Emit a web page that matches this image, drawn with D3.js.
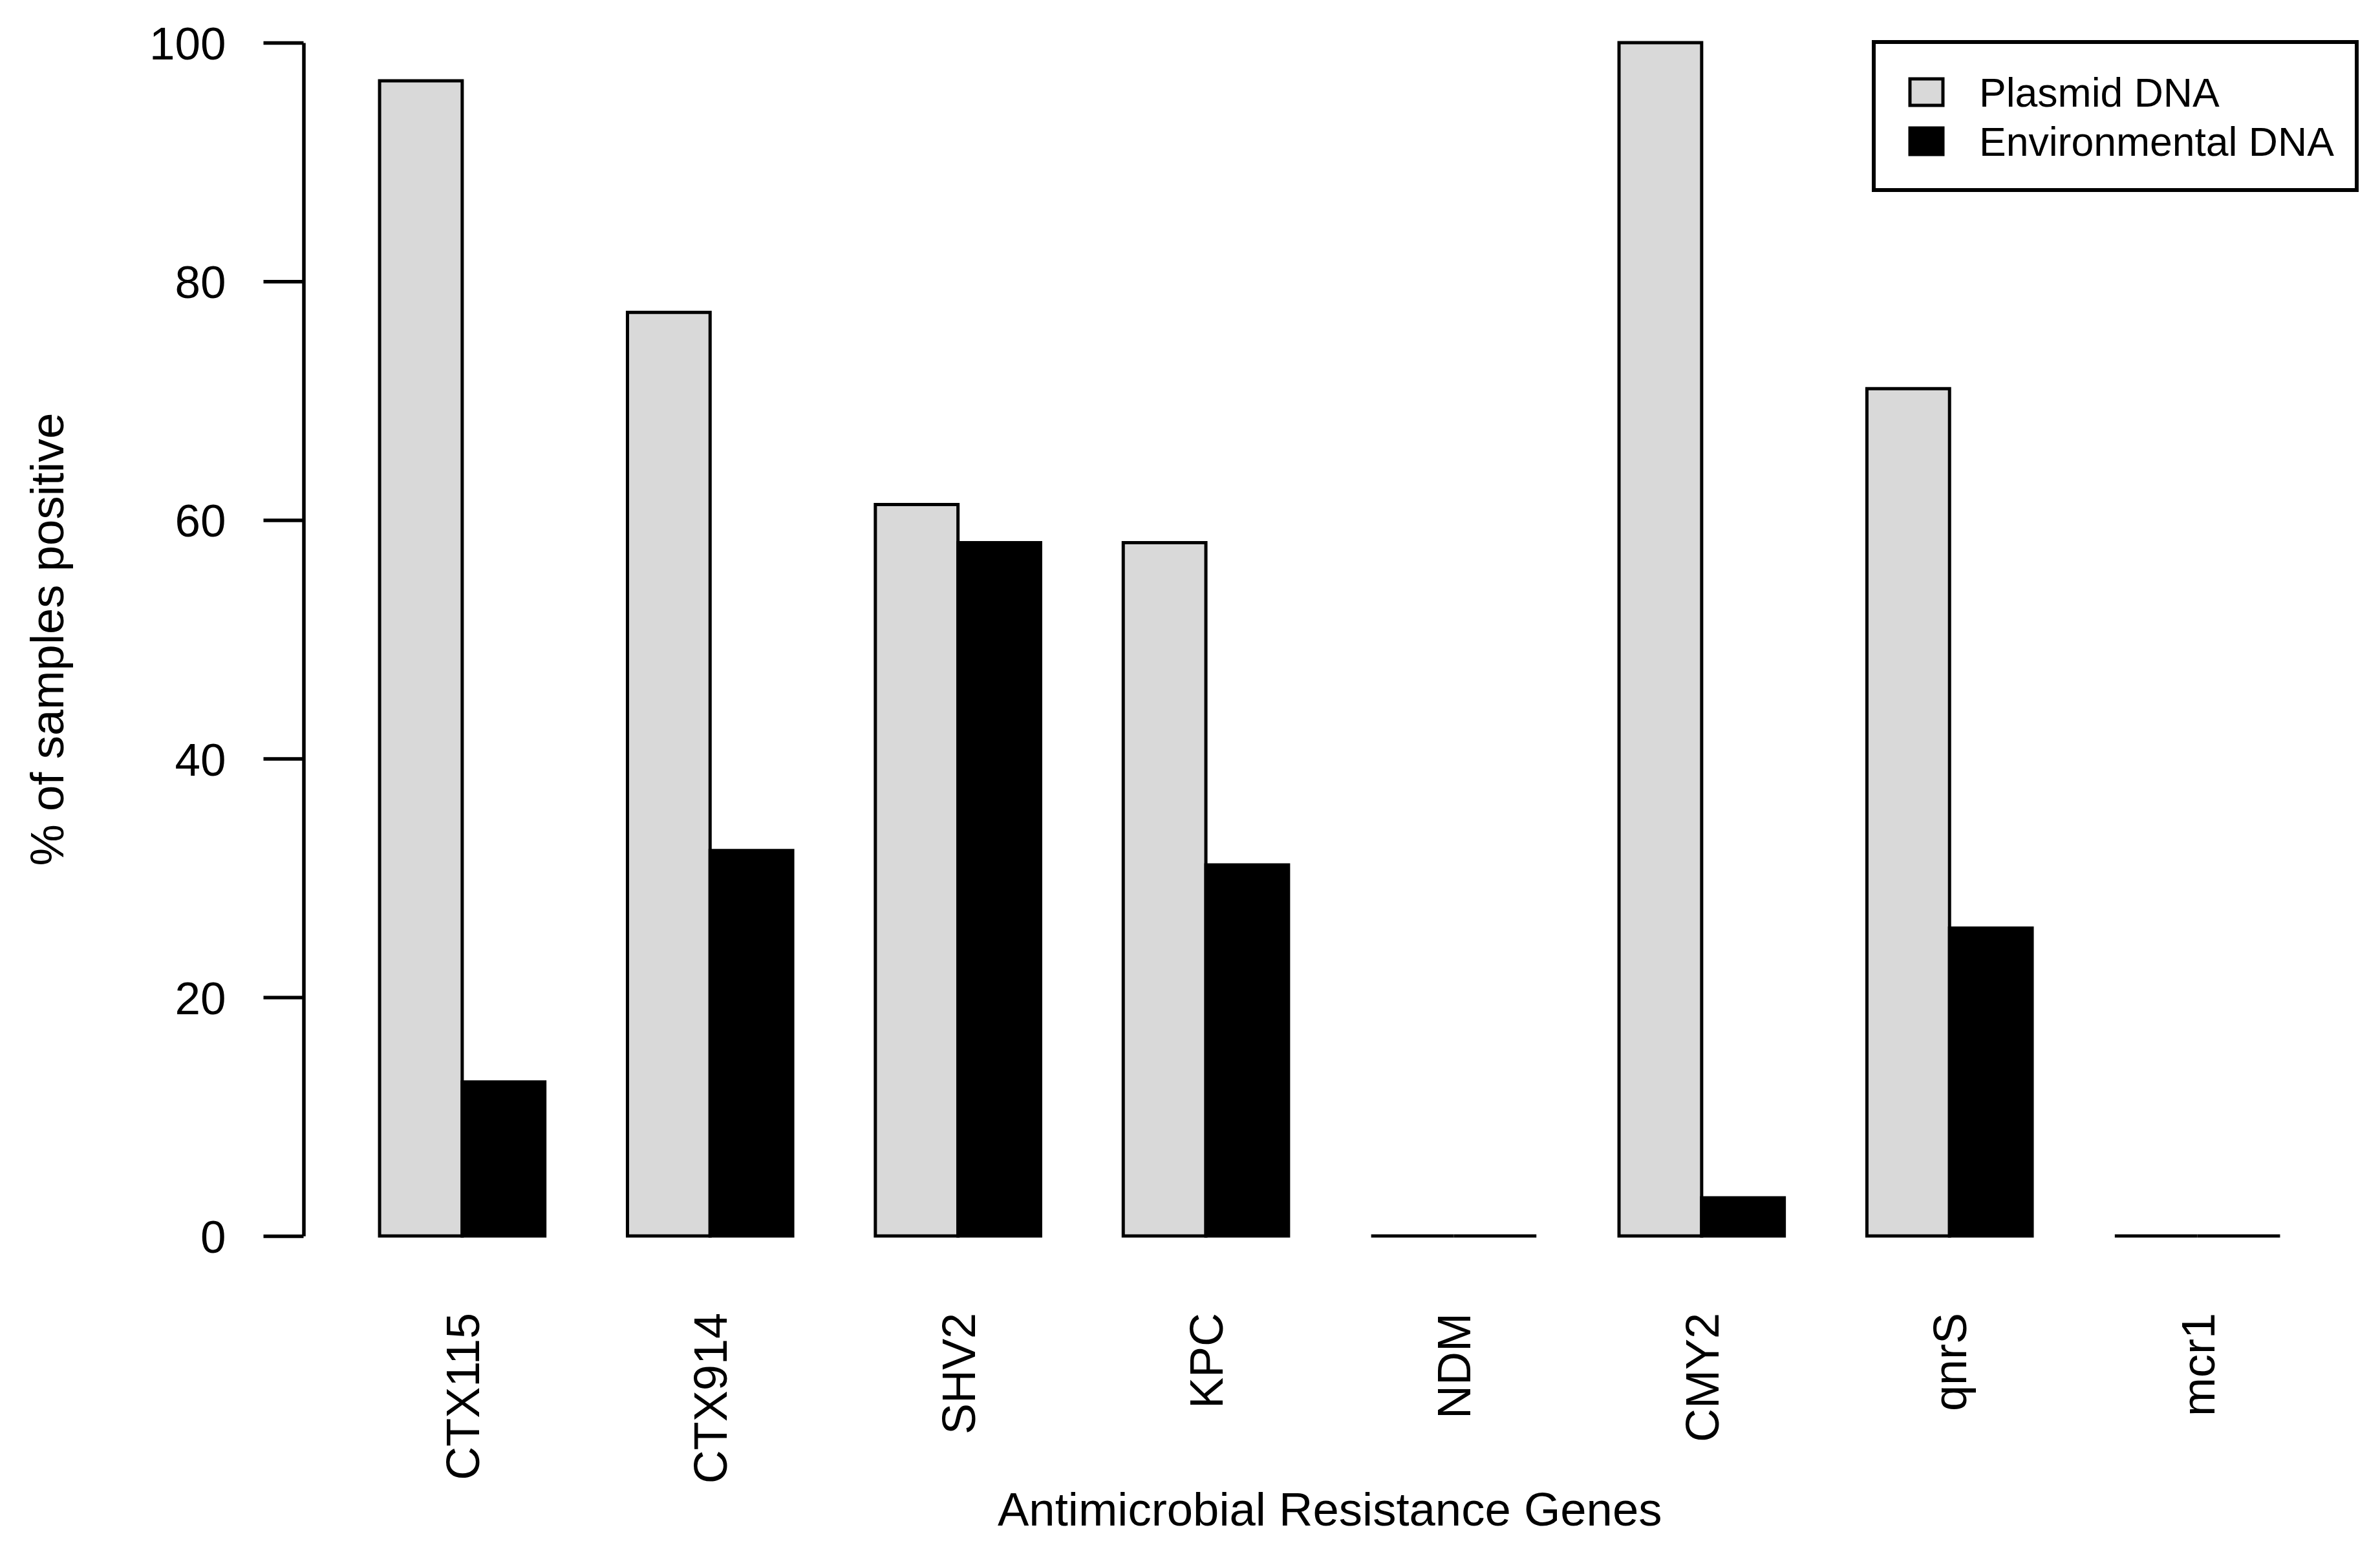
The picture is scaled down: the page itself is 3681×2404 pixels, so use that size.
<!DOCTYPE html>
<html>
<head>
<meta charset="utf-8">
<script src="https://cdn.jsdelivr.net/npm/d3@7/dist/d3.min.js"></script>
<style>
  html, body { margin: 0; padding: 0; background: #fff; }
  text { font-family: "Liberation Sans", Arial, Helvetica, sans-serif; fill: #000; }
</style>
</head>
<body>
<div id="chart"></div>
<script>
// data
const genes = ["CTX115", "CTX914", "SHV2", "KPC", "NDM", "CMY2", "qnrS", "mcr1"];
const seriesNames = ["Plasmid DNA", "Environmental DNA"];
const plasmidPct = [96.8, 77.4, 61.3, 58.1, 0, 100, 71.0, 0];
const envPct = [12.9, 32.3, 58.1, 31.1, 0, 3.2, 25.8, 0];
const yTicks = [0, 20, 40, 60, 80, 100];
const seriesFill = ["#d9d9d9", "#000000"];

const W = 3681, H = 2404;
const plot = { left: 469.5, right: 3644, top: 66, bottom: 1912 };

const svg = d3.select('#chart').append('svg')
    .attr('width', W)
    .attr('height', H)
    .attr('viewBox', `0 0 ${W} ${H}`);

svg.append('rect').attr('width', W).attr('height', H).attr('fill', '#fff');

// scales: R barplot style, two bars per group, one bar width gap between groups
const x0 = d3.scaleBand()
    .domain(genes)
    .range([plot.left, plot.right])
    .paddingInner(1 / 3)
    .paddingOuter(0.92 / 3);

const x1 = d3.scaleBand()
    .domain(seriesNames)
    .range([0, x0.bandwidth()]);

const y = d3.scaleLinear()
    .domain([0, 100])
    .range([plot.bottom, plot.top]);

const rows = genes.map((g, i) => ({
    gene: g,
    values: [
        { series: seriesNames[0], value: plasmidPct[i], fill: seriesFill[0] },
        { series: seriesNames[1], value: envPct[i], fill: seriesFill[1] }
    ]
}));

// bars (paths so that zero-height bars still show as a line)
const groups = svg.append('g').attr('class', 'bars')
    .selectAll('g')
    .data(rows)
    .enter().append('g')
      .attr('transform', d => `translate(${x0(d.gene)},0)`);

groups.selectAll('path')
    .data(d => d.values)
    .enter().append('path')
      .attr('d', d => {
          const a = x1(d.series), b = a + x1.bandwidth();
          return `M${a},${y(0)}H${b}V${y(d.value)}H${a}Z`;
      })
      .attr('fill', d => d.fill)
      .attr('stroke', '#000')
      .attr('stroke-width', 5)
      .attr('stroke-linejoin', 'miter');

// y axis
const yAxis = svg.append('g')
    .attr('class', 'y-axis')
    .attr('transform', `translate(${plot.left},0)`)
    .call(d3.axisLeft(y).tickValues(yTicks).tickSize(62).tickSizeOuter(0).tickPadding(58));

yAxis.select('.domain').attr('stroke-width', 5.5);
yAxis.selectAll('.tick line').attr('stroke-width', 5.5);
yAxis.selectAll('.tick text')
    .attr('font-size', 71)
    .attr('font-family', '"Liberation Sans", Arial, sans-serif')
    .attr('dy', '0.36em');

// gene labels, perpendicular to the axis
svg.append('g').attr('class', 'x-labels')
    .selectAll('text')
    .data(genes)
    .enter().append('text')
      .attr('transform', d => `translate(${x0(d) + x0.bandwidth() / 2},2031) rotate(-90)`)
      .attr('dy', '0.36em')
      .attr('text-anchor', 'end')
      .attr('font-size', 72)
      .text(d => d);

// axis titles
svg.append('text')
    .attr('x', (plot.left + plot.right) / 2)
    .attr('y', 2360)
    .attr('text-anchor', 'middle')
    .attr('font-size', 72.5)
    .text('Antimicrobial Resistance Genes');

svg.append('text')
    .attr('transform', `translate(98,${(plot.top + plot.bottom) / 2}) rotate(-90)`)
    .attr('text-anchor', 'middle')
    .attr('font-size', 72.5)
    .text('% of samples positive');

// legend, top right
const legend = svg.append('g').attr('class', 'legend');
legend.append('rect')
    .attr('x', 2898).attr('y', 65)
    .attr('width', 3645 - 2898).attr('height', 294 - 65)
    .attr('fill', '#fff')
    .attr('stroke', '#000')
    .attr('stroke-width', 6);

const items = legend.selectAll('g.item')
    .data(seriesNames)
    .enter().append('g')
      .attr('class', 'item')
      .attr('transform', (d, i) => `translate(0,${i * 76})`);

items.append('rect')
    .attr('x', 2954).attr('y', 122)
    .attr('width', 51).attr('height', 41)
    .attr('fill', (d, i) => seriesFill[i])
    .attr('stroke', '#000')
    .attr('stroke-width', 5);

items.append('text')
    .attr('x', 3061).attr('y', 165)
    .attr('font-size', 62.5)
    .text(d => d);
</script>
</body>
</html>
